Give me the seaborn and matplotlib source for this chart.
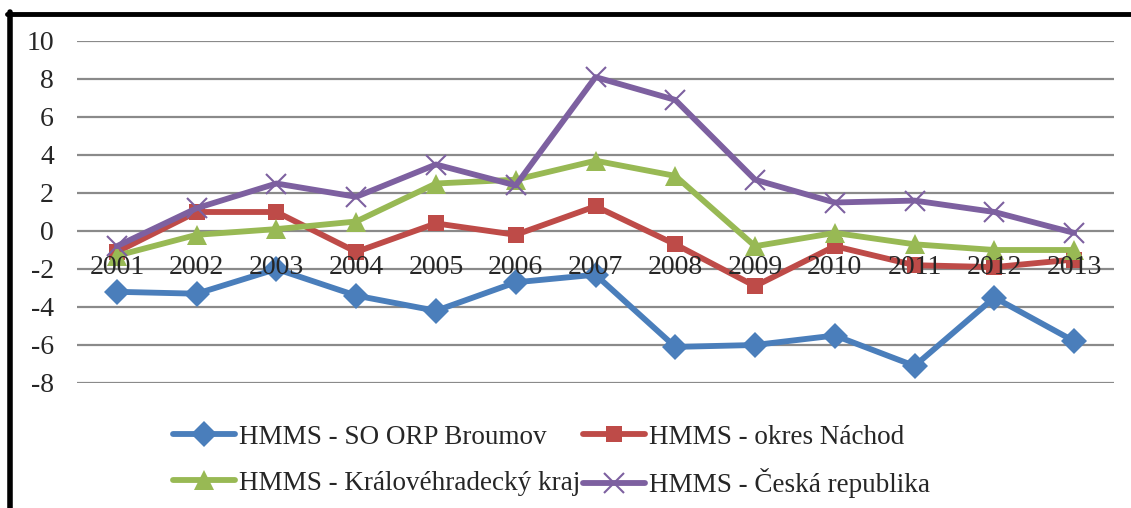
import numpy as np
import pandas as pd
import matplotlib
matplotlib.use('Agg')
import matplotlib.pyplot as plt
import seaborn as sns
from matplotlib.lines import Line2D

sns.set_style('white')
plt.rcParams['font.family'] = ['Liberation Serif', 'DejaVu Serif']
plt.rcParams['axes.unicode_minus'] = False

years = ['2001', '2002', '2003', '2004', '2005', '2006', '2007',
         '2008', '2009', '2010', '2011', '2012', '2013']
broumov = [-3.2, -3.3, -2.0, -3.4, -4.2, -2.7, -2.3, -6.1, -6.0, -5.5, -7.1, -3.5, -5.8]
nachod = [-1.1, 1.0, 1.0, -1.1, 0.4, -0.2, 1.3, -0.7, -2.9, -0.8, -1.8, -1.9, -1.5]
kraj = [-1.3, -0.2, 0.1, 0.5, 2.5, 2.7, 3.7, 2.9, -0.8, -0.1, -0.7, -1.0, -1.0]
cr = [-0.8, 1.2, 2.5, 1.8, 3.5, 2.4, 8.1, 6.9, 2.7, 1.5, 1.6, 1.0, -0.1]

labels = ['HMMS - SO ORP Broumov', 'HMMS - okres Náchod',
          'HMMS - Královéhradecký kraj', 'HMMS - Česká republika']
colors = ['#4A7EBB', '#BE4B48', '#98B954', '#7D60A0']
markers = ['D', 's', '^', 'x']
msizes = [13, 12, 14, 14]
mews = [0, 0, 0, 1.5]

fig = plt.figure(figsize=(11.31, 5.08), dpi=100)
ax = fig.add_axes([77 / 1131, 1 - 383 / 508, (1114 - 77) / 1131, (383 - 41) / 508])

pos = np.arange(len(years))
for vals, lab, c, m, ms, mew in zip([broumov, nachod, kraj, cr], labels, colors, markers, msizes, mews):
    df = pd.DataFrame({'x': pos, 'y': vals})
    sns.lineplot(data=df, x='x', y='y', ax=ax, color=c, lw=4.2, marker=m,
                 markersize=ms, markeredgewidth=mew, markeredgecolor=c,
                 label=lab, legend=False, zorder=3)

ax.set_xlim(-0.5, len(years) - 0.5)
ax.set_ylim(-8, 10)
ax.set_yticks(np.arange(-8, 11, 2))
ax.set_xticks(pos)
ax.set_xticklabels(years)
ax.set_xlabel('')
ax.set_ylabel('')
for s in ['top', 'right', 'left']:
    ax.spines[s].set_visible(False)
ax.spines['bottom'].set_position(('data', 0))
ax.spines['bottom'].set_visible(False)
ax.yaxis.grid(True, color='#8a8a8a', lw=1.6)
ax.set_axisbelow(True)
ax.xaxis.set_zorder(5)
ax.tick_params(axis='x', length=0, pad=17, labelsize=20)
ax.tick_params(axis='y', length=0, pad=16.5, labelsize=20)

# legend: 2 x 2 grid, one entry per slot so columns and rows line up
slots = [(173, 437), (583, 437), (173, 483), (583, 483)]
for lab, c, m, ms, mew, (px, py) in zip(labels, colors, markers, msizes, mews, slots):
    h = Line2D([], [], color=c, lw=4.2, marker=m, markersize=ms,
               markeredgewidth=mew, markeredgecolor=c)
    fig.legend([h], [lab], loc='center left', bbox_to_anchor=(px / 1131, 1 - py / 508),
               frameon=False, fontsize=19.5, borderpad=0, borderaxespad=0,
               handlelength=2.3, handletextpad=0.15, numpoints=1)

fig.add_artist(Line2D([7 / 1131, 1], [1 - 13.5 / 508, 1 - 13.5 / 508], color='black', lw=3.5))
fig.add_artist(Line2D([9.5 / 1131, 9.5 / 1131], [0, 1 - 12 / 508], color='black', lw=4))

fig.savefig('out.png', dpi=100)
